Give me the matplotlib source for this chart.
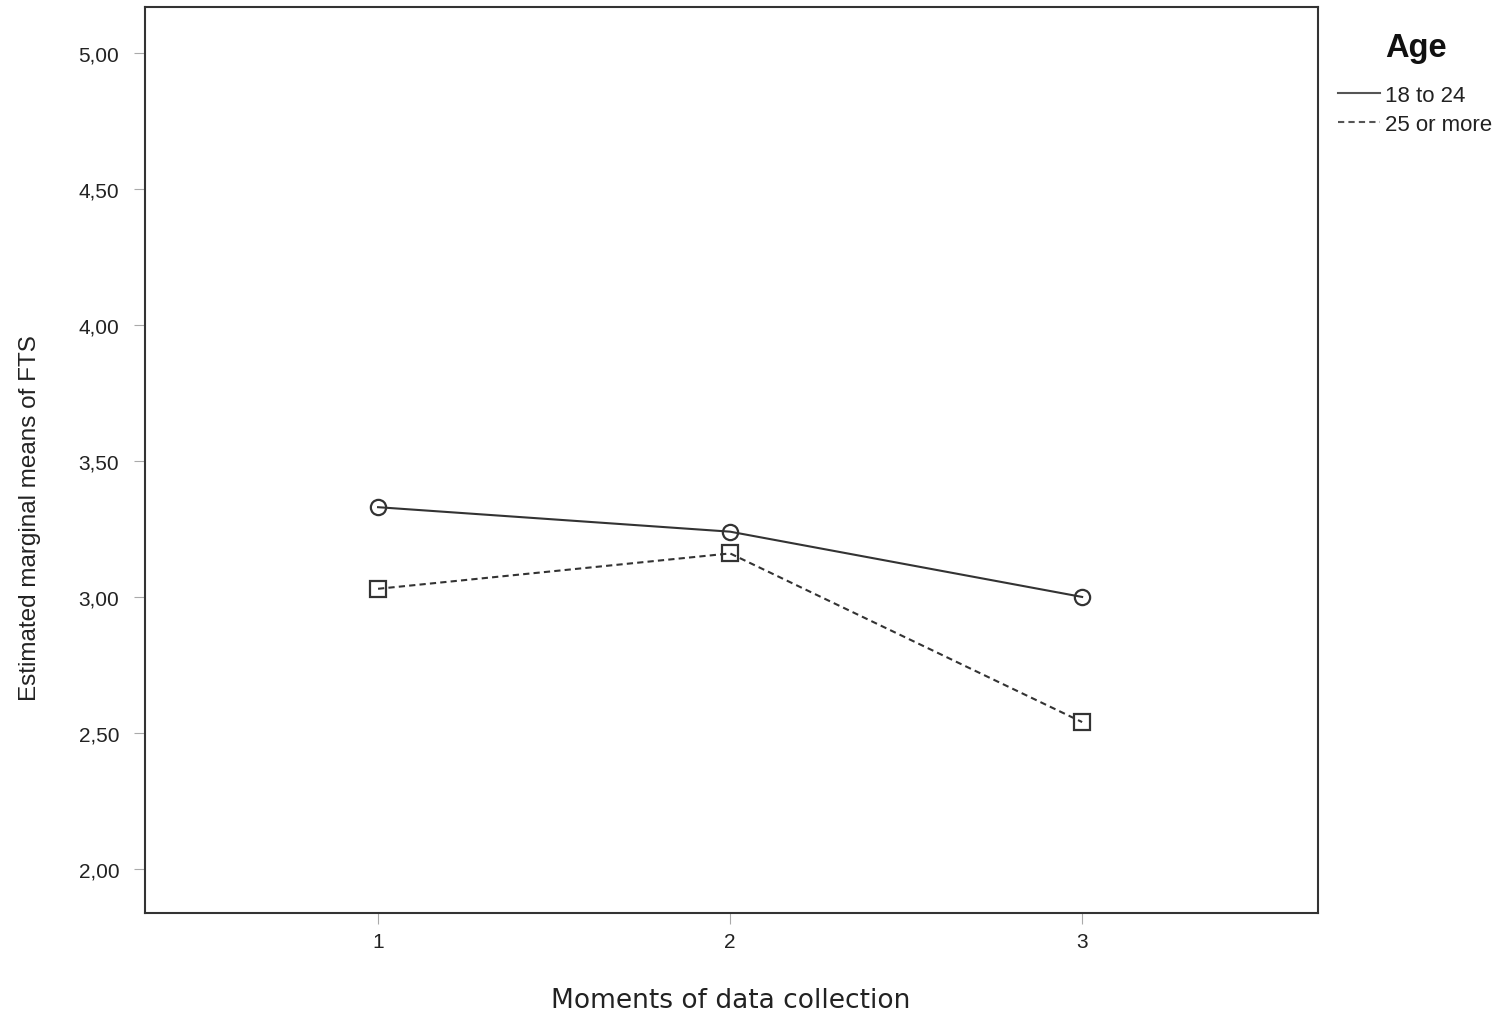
import matplotlib
matplotlib.use("Agg")
import matplotlib.pyplot as plt
from matplotlib import font_manager
from matplotlib.ticker import FuncFormatter

# estimated marginal means
moments = [1, 2, 3]
young = [3.33, 3.24, 3.00]    # 18 to 24
older = [3.03, 3.16, 2.54]    # 25 or more
yticks = [2.0, 2.5, 3.0, 3.5, 4.0, 4.5, 5.0]

plt.rcParams['font.family'] = ['Liberation Sans', 'DejaVu Sans']

names = {f.name for f in font_manager.fontManager.ttflist}
if 'Liberation Sans Narrow' in names:
    ylab_font, ylab_size = 'Liberation Sans Narrow', 21
else:
    ylab_font, ylab_size = 'Liberation Sans', 17.5

W, H = 1499, 1020
fig = plt.figure(figsize=(W / 100, H / 100), dpi=100)
ax = fig.add_axes([145 / W, 1 - 914 / H, (1318 - 145) / W, (914 - 8) / H])

ax.plot(moments, young, color='#333333', lw=1.5, ls='-', marker='o', ms=11,
        mfc='none', mec='#333333', mew=1.6, label='18 to 24')
ax.plot(moments, older, color='#333333', lw=1.5, ls=(0, (3, 2)), marker='s', ms=11,
        mfc='none', mec='#333333', mew=1.6, label='25 or more')

ax.set_xlim(0.338, 3.67)
ax.set_ylim(1.838, 5.169)
ax.set_xticks(moments)
ax.set_yticks(yticks)
ax.yaxis.set_major_formatter(FuncFormatter(lambda v, p: f"{v:.2f}".replace('.', ',')))
ax.tick_params(direction='out', length=8, color='#aaaaaa', labelsize=15, labelcolor='#222222')
ax.tick_params(axis='y', pad=10.5)
ax.tick_params(axis='x', pad=6)
for s in ax.spines.values():
    s.set_color('#333333')
    s.set_linewidth(1.5)

# axis titles placed where the reference has them
fig.text(731 / W, 1 - 1001 / H, 'Moments of data collection', fontsize=19,
         family='DejaVu Sans', color='#222222', ha='center', va='center')
fig.text(30 / W, 1 - 518 / H, 'Estimated marginal means of FTS', fontsize=ylab_size,
         family=ylab_font, color='#222222', rotation=90, ha='center', va='center')

# legend
fig.text(1416 / W, 1 - 48 / H, 'Age', fontsize=23.5, fontweight='bold',
         color='#111111', ha='center', va='center')
leg = ax.legend(loc='upper left', bbox_to_anchor=(1338 / W, 1 - 86 / H),
                bbox_transform=fig.transFigure, frameon=False,
                fontsize=16, handlelength=1.9, handletextpad=0.2,
                labelspacing=0.36, borderaxespad=0, borderpad=0)
for h in leg.legend_handles:
    h.set_marker('')
    h.set_color('#555555')
for t in leg.get_texts():
    t.set_color('#222222')

fig.savefig('out.png', dpi=100)
